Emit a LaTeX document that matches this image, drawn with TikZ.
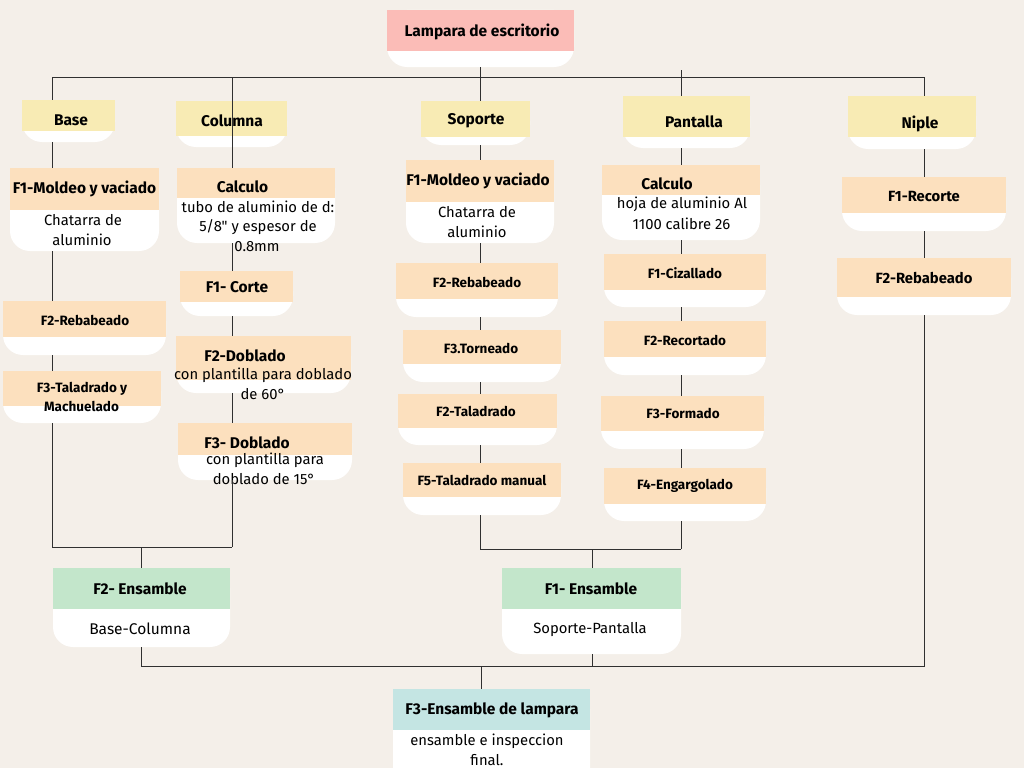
\documentclass[tikz,border=0pt]{standalone}
\usepackage{fontspec}
\setmainfont{Fira Sans}
\newfontfamily\rawfira{Fira Sans}[Ligatures=TeXOff]
\definecolor{bg}{HTML}{F4EFE9}
\definecolor{yel}{HTML}{F8EBB4}
\definecolor{pea}{HTML}{FCE0BE}
\definecolor{pnk}{HTML}{FBBCB7}
\definecolor{grn}{HTML}{C3E6CB}
\definecolor{tea}{HTML}{C4E5E3}
\definecolor{lnc}{HTML}{303030}
\newcommand\bx[7]{%
  \fill[white, rounded corners=20pt] (#2,#3) rectangle (#4,#6);
  \fill[#7] (#2,#3) rectangle (#4,#5);
  \node[inner sep=0pt, minimum width={(#4-#2)*1pt}, minimum height={(#6-#3)*1pt}] (#1) at ({(#2+#4)/2},{(#3+#6)/2}) {};
}
\tikzset{
  hb/.style={inner sep=0pt, font=\fontsize{15.5}{18}\selectfont\bfseries},
  sb/.style={inner sep=0pt, font=\fontsize{13.5}{16}\selectfont\bfseries},
  mb/.style={inner sep=0pt, font=\fontsize{14.8}{17}\selectfont\bfseries},
  bt/.style={inner sep=0pt, font=\fontsize{14.8}{17}\selectfont},
  conn/.style={draw=lnc, line width=0.95pt},
}
\begin{document}
\begin{tikzpicture}[x=1pt, y=-1pt]
\fill[bg] (0,0) rectangle (1024,768);
\useasboundingbox (0,0) rectangle (1024,768);
% boxes
\bx{lamp}{387}{10}{574}{51}{67}{pnk}
\bx{base}{22}{100}{115}{131}{142}{yel}
\bx{col}{176}{101}{287}{136}{147}{yel}
\bx{sop}{421}{101}{530}{137}{145}{yel}
\bx{pan}{623}{96}{750}{137}{148}{yel}
\bx{nip}{848}{96}{976}{137}{149}{yel}
\bx{bf1}{10}{168}{159}{210}{251}{pea}
\bx{bf2}{3}{301}{166}{337}{355}{pea}
\bx{bf3}{3}{371}{161}{406}{423}{pea}
\bx{cc}{177}{168}{335}{198}{243}{pea}
\bx{cf1}{180}{271}{293}{302}{316}{pea}
\bx{cf2}{176}{336}{351}{380}{393}{pea}
\bx{cf3}{178}{423}{352}{455}{480}{pea}
\bx{sf1}{406}{160}{554}{202}{243}{pea}
\bx{sf2}{396}{263}{558}{299}{317}{pea}
\bx{sf3}{403}{330}{561}{364}{382}{pea}
\bx{sf4}{398}{394}{557}{428}{445}{pea}
\bx{sf5}{403}{463}{561}{497}{515}{pea}
\bx{pc}{602}{165}{760}{195}{240}{pea}
\bx{pf1}{604}{254}{766}{290}{307}{pea}
\bx{pf2}{604}{321}{766}{357}{375}{pea}
\bx{pf3}{601}{396}{764}{431}{449}{pea}
\bx{pf4}{604}{468}{766}{504}{521}{pea}
\bx{nf1}{842}{177}{1006}{213}{231}{pea}
\bx{nf2}{837}{258}{1011}{297}{315}{pea}
\bx{ens2}{53}{568}{230}{609}{647}{grn}
\bx{ens1}{502}{568}{681}{609}{654}{grn}
\bx{fin}{393}{689}{590}{730}{790}{tea}
% texts
\node[hb] (lamp-t) at (482,32) {Lampara de escritorio};
\node[hb] (base-t) at (71,120) {Base};
\node[hb] (col-t) at (232,121) {Columna};
\node[hb] (sop-t) at (476,121) {Soporte};
\node[hb] (pan-t) at (694,122) {Pantalla};
\node[hb] (nip-t) at (920,124) {Niple};
\node[hb] (bf1-t) at (84.5,189) {F1-Moldeo y vaciado};
\node[bt] (bf1-a) at (83,220) {Chatarra de};
\node[bt] (bf1-b) at (82,240) {aluminio};
\node[sb] (bf2-t) at (85,320) {F2-Rebabeado};
\node[sb] (bf3-a) at (82,389) {F3-Taladrado y};
\node[sb] (bf3-b) at (81.5,406) {Machuelado};
\node[hb] (cc-t) at (242.5,187) {Calculo};
\node[bt] (cc-a) at (258,207) {tubo de aluminio de d:};
\node[bt, font=\fontsize{14.8}{17}\rawfira] (cc-b) at (258,227) {5/8" y espesor de};
\node[bt] (cc-c) at (257,247) {0.8mm};
\node[hb] (cf1-t) at (237,287) {F1- Corte};
\node[hb] (cf2-t) at (245,356) {F2-Doblado};
\node[bt] (cf2-a) at (263,375) {con plantilla para doblado};
\node[bt] (cf2-b) at (263,394) {de 60°};
\node[hb] (cf3-t) at (247,443) {F3- Doblado};
\node[bt] (cf3-a) at (265,460) {con plantilla para};
\node[bt] (cf3-b) at (264,479) {doblado de 15°};
\node[hb] (sf1-t) at (478,181) {F1-Moldeo y vaciado};
\node[bt] (sf1-a) at (477,212) {Chatarra de};
\node[bt] (sf1-b) at (477,232) {aluminio};
\node[sb] (sf2-t) at (477,282) {F2-Rebabeado};
\node[sb] (sf3-t) at (481,348) {F3.Torneado};
\node[sb] (sf4-t) at (476,411) {F2-Taladrado};
\node[sb] (sf5-t) at (482,480) {F5-Taladrado manual};
\node[hb] (pc-t) at (667,184) {Calculo};
\node[bt] (pc-a) at (682,204) {hoja de aluminio Al};
\node[bt] (pc-b) at (681.5,224) {1100 calibre 26};
\node[sb] (pf1-t) at (685,273) {F1-Cizallado};
\node[sb] (pf2-t) at (685,340) {F2-Recortado};
\node[sb] (pf3-t) at (683,413) {F3-Formado};
\node[sb] (pf4-t) at (685,486) {F4-Engargolado};
\node[mb] (nf1-t) at (924,196) {F1-Recorte};
\node[mb] (nf2-t) at (924,278) {F2-Rebabeado};
\node[hb] (ens2-t) at (140,589) {F2- Ensamble};
\node[bt, font=\fontsize{15.5}{18}\selectfont] (ens2-a) at (140,629) {Base-Columna};
\node[hb] (ens1-t) at (591,589) {F1- Ensamble};
\node[bt] (ens1-a) at (590,630) {Soporte-Pantalla};
\node[hb] (fin-t) at (492,710) {F3-Ensamble de lampara};
\node[bt] (fin-a) at (487,741) {ensamble e inspeccion};
\node[bt] (fin-b) at (487,760) {final.};
% column coordinates
\coordinate (cA) at (52,77);
\coordinate (cB) at (232,77);
\coordinate (cC) at (480,77);
\coordinate (cD) at (681,77);
\coordinate (cDt) at (681,70);
\coordinate (cE) at (924,77);
\coordinate (jL1) at (52,547);
\coordinate (jL2) at (232,547);
\coordinate (jL) at (141,547);
\coordinate (jR1) at (480,549);
\coordinate (jR2) at (681,549);
\coordinate (jR) at (592,549);
\coordinate (bL) at (141,666);
\coordinate (bR) at (924,666);
\coordinate (bM) at (481,666);
% connectors
\draw[conn] (cA) -- (cE);
\draw[conn] (lamp.south -| cC) -- (sop.north -| cC);
% Base column
\draw[conn] (cA) -- (base.north -| cA);
\draw[conn] (base.south -| cA) -- (bf1.north -| cA);
\draw[conn] (bf1.south -| cA) -- (bf2.north -| cA);
\draw[conn] (bf2.south -| cA) -- (bf3.north -| cA);
\draw[conn] (bf3.south -| cA) -- (jL1) -- (jL2);
% Columna column
\draw[conn] (cB) -- (cc.north -| cB);
\draw[conn] (cc.south -| cB) -- (cf1.north -| cB);
\draw[conn] (cf1.south -| cB) -- (cf2.north -| cB);
\draw[conn] (cf2.south -| cB) -- (cf3.north -| cB);
\draw[conn] (cf3.south -| cB) -- (jL2);
\draw[conn] (jL) -- (ens2.north -| jL);
% Soporte column
\draw[conn] (sop.south -| cC) -- (sf1.north -| cC);
\draw[conn] (sf1.south -| cC) -- (sf2.north -| cC);
\draw[conn] (sf2.south -| cC) -- (sf3.north -| cC);
\draw[conn] (sf3.south -| cC) -- (sf4.north -| cC);
\draw[conn] (sf4.south -| cC) -- (sf5.north -| cC);
\draw[conn] (sf5.south -| cC) -- (jR1) -- (jR2);
% Pantalla column
\draw[conn] (cDt) -- (pan.north -| cD);
\draw[conn] (pan.south -| cD) -- (pc.north -| cD);
\draw[conn] (pc.south -| cD) -- (pf1.north -| cD);
\draw[conn] (pf1.south -| cD) -- (pf2.north -| cD);
\draw[conn] (pf2.south -| cD) -- (pf3.north -| cD);
\draw[conn] (pf3.south -| cD) -- (pf4.north -| cD);
\draw[conn] (pf4.south -| cD) -- (jR2);
\draw[conn] (jR) -- (ens1.north -| jR);
% Niple column
\draw[conn] (cE) -- (nip.north -| cE);
\draw[conn] (nip.south -| cE) -- (nf1.north -| cE);
\draw[conn] (nf1.south -| cE) -- (nf2.north -| cE);
% bottom
\draw[conn] (nf2.south -| cE) -- (bR) -- (bL) -- (ens2.south -| bL);
\draw[conn] (ens1.south -| jR) -- (jR |- bL);
\draw[conn] (bM) -- (fin.north -| bM);
\end{tikzpicture}
\end{document}
